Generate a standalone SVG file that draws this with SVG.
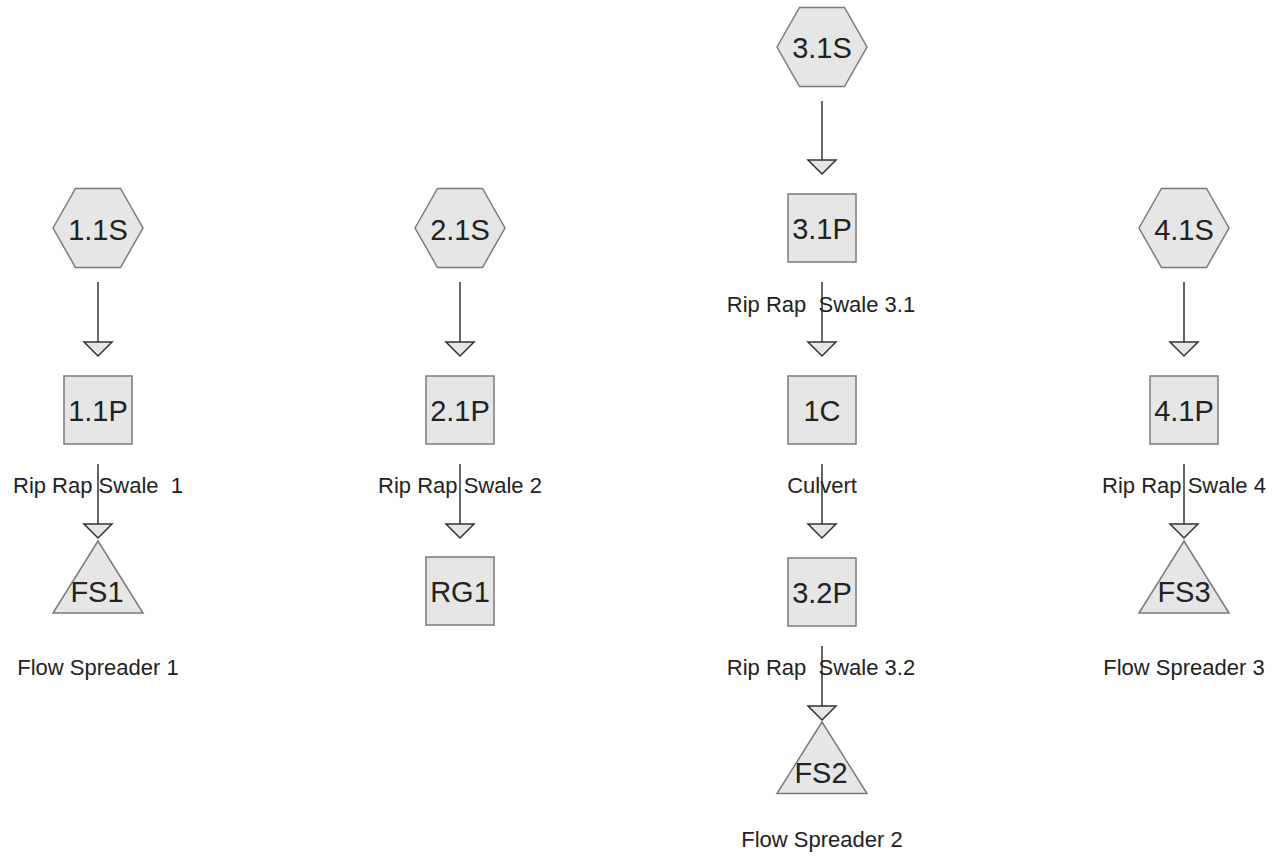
<svg xmlns="http://www.w3.org/2000/svg" width="1281" height="864" viewBox="0 0 1281 864">
<style>
.shape{fill:#e6e6e6;stroke:#7a7a7a;stroke-width:1.5}
.conn{stroke:#333;stroke-width:1.5;fill:none;marker-end:url(#ah)}
.nt{font-family:"Liberation Sans",Arial,sans-serif;font-size:29px;fill:#222;text-anchor:middle}
.lt{font-family:"Liberation Sans",Arial,sans-serif;font-size:22px;fill:#222;text-anchor:middle;white-space:pre}
</style>
<defs>
<marker id="ah" markerUnits="userSpaceOnUse" viewBox="0 0 14 28" refX="14" refY="14" markerWidth="14" markerHeight="28" orient="auto" overflow="visible">
<path d="M0,0 L14,14 L0,28 Z" fill="#e6e6e6" stroke="#333" stroke-width="1.5" stroke-linejoin="miter"/>
</marker>
</defs>
<rect width="1281" height="864" fill="#fff"/>
<g id="connectors">
<line class="conn" x1="98" y1="282" x2="98" y2="356"/>
<line class="conn" x1="98" y1="464" x2="98" y2="538"/>
<line class="conn" x1="460" y1="282" x2="460" y2="356"/>
<line class="conn" x1="460" y1="464" x2="460" y2="538"/>
<line class="conn" x1="822" y1="101" x2="822" y2="174"/>
<line class="conn" x1="822" y1="282" x2="822" y2="356"/>
<line class="conn" x1="822" y1="464" x2="822" y2="538"/>
<line class="conn" x1="822" y1="646" x2="822" y2="720"/>
<line class="conn" x1="1184" y1="282" x2="1184" y2="356"/>
<line class="conn" x1="1184" y1="464" x2="1184" y2="538"/>
<text class="lt" x="98" y="493">Rip Rap Swale  1</text>
<text class="lt" x="460" y="493">Rip Rap Swale 2</text>
<text class="lt" x="821" y="312">Rip Rap  Swale 3.1</text>
<text class="lt" x="822" y="493">Culvert</text>
<text class="lt" x="821" y="675">Rip Rap  Swale 3.2</text>
<text class="lt" x="1184" y="493">Rip Rap Swale 4</text>
</g>
<g id="n11S"><polygon class="shape" points="53,228 75.5,188.5 120.5,188.5 143,228 120.5,267.5 75.5,267.5"/><text class="nt" x="98" y="240">1.1S</text></g>
<g id="n11P"><rect class="shape" x="64" y="376" width="68" height="68"/><text class="nt" x="98" y="421">1.1P</text></g>
<g id="nFS1"><polygon class="shape" points="98,541 143,613 53,613"/><text class="nt" x="97" y="602">FS1</text><text class="lt" x="98" y="675">Flow Spreader 1</text></g>
<g id="n21S"><polygon class="shape" points="415,228 437.5,188.5 482.5,188.5 505,228 482.5,267.5 437.5,267.5"/><text class="nt" x="460" y="240">2.1S</text></g>
<g id="n21P"><rect class="shape" x="426" y="376" width="68" height="68"/><text class="nt" x="460" y="421">2.1P</text></g>
<g id="nRG1"><rect class="shape" x="426" y="557" width="68" height="68"/><text class="nt" x="460" y="602">RG1</text></g>
<g id="n31S"><polygon class="shape" points="777,47 799.5,7.5 844.5,7.5 867,47 844.5,86.5 799.5,86.5"/><text class="nt" x="822" y="58">3.1S</text></g>
<g id="n31P"><rect class="shape" x="788" y="194" width="68" height="68"/><text class="nt" x="822" y="239">3.1P</text></g>
<g id="n1C"><rect class="shape" x="788" y="376" width="68" height="68"/><text class="nt" x="822" y="421">1C</text></g>
<g id="n32P"><rect class="shape" x="788" y="558" width="68" height="68"/><text class="nt" x="822" y="603">3.2P</text></g>
<g id="nFS2"><polygon class="shape" points="822,722 867,793.5 777,793.5"/><text class="nt" x="821" y="783">FS2</text><text class="lt" x="822" y="847">Flow Spreader 2</text></g>
<g id="n41S"><polygon class="shape" points="1139,228 1161.5,188.5 1206.5,188.5 1229,228 1206.5,267.5 1161.5,267.5"/><text class="nt" x="1184" y="240">4.1S</text></g>
<g id="n41P"><rect class="shape" x="1150" y="376" width="68" height="68"/><text class="nt" x="1184" y="421">4.1P</text></g>
<g id="nFS3"><polygon class="shape" points="1184,541 1229,613 1139,613"/><text class="nt" x="1184" y="602">FS3</text><text class="lt" x="1184" y="675">Flow Spreader 3</text></g>
</svg>
